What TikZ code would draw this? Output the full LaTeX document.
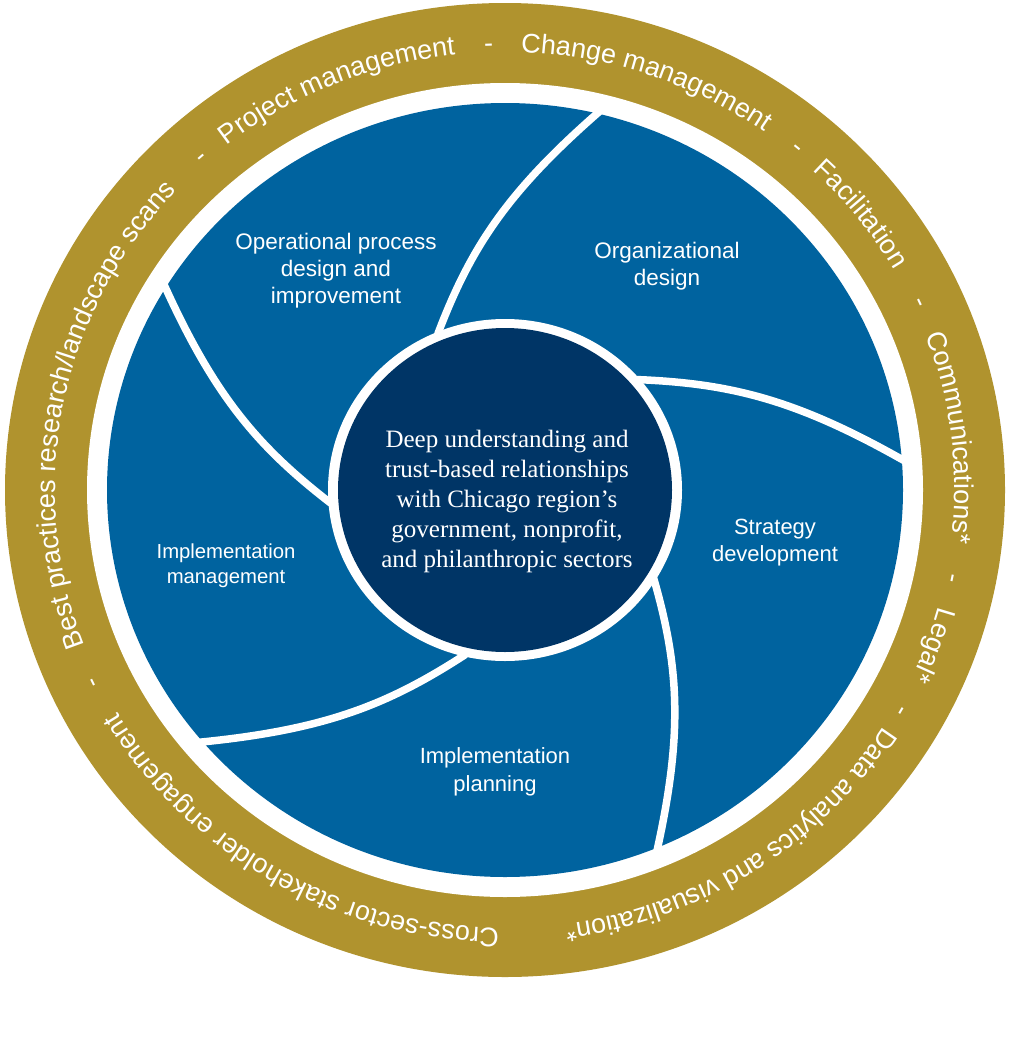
\documentclass[tikz,border=0pt]{standalone}
\usepackage{fontspec}
\setmainfont{Liberation Sans}
\newfontfamily\corefont{Liberation Serif}
\usetikzlibrary{decorations.text}
\definecolor{ringgold}{HTML}{B0932E}
\definecolor{segblue}{HTML}{00639F}
\definecolor{corenavy}{HTML}{003566}
\newcommand{\ringfont}{\fontsize{27}{32}\selectfont}
\newcommand{\ringitem}[2]{%
  \path[decorate, decoration={text along path, text align=center, text color=white, text={|\ringfont|#2}}]
    ({#1+75}:438) arc[start angle={#1+75}, end angle={#1-75}, x radius=449.8pt, y radius=438pt];%
}
\tikzset{
  divider/.style={draw=white, line width=7.5pt, line cap=butt, line join=round},
  seglabel/.style={text=white, align=center, font=\fontsize{22.5}{27}\selectfont, inner sep=0pt},
}
\begin{document}
\begin{tikzpicture}[x=1pt,y=-1pt]
\useasboundingbox[fill=white] (0,0) rectangle (1009,1052);
\begin{scope}[shift={(505,490)}, x=1.027pt, y=1pt]
  % gold ring
  \fill[ringgold] (0,0) ellipse[x radius=500pt, y radius=487pt];
  \fill[white] (0,0) ellipse[x radius=418pt, y radius=407pt];
  % blue disc
  \fill[segblue] (0,0) ellipse[x radius=398pt, y radius=387pt];
  % swirl dividers (one curve, repeated every 72 degrees)
  \foreach \k in {0,...,4}{
    \draw[divider] ({114.3-72*\k}:160) -- ({112.5-72*\k}:170)
      .. controls ({97.9-72*\k}:244) and ({89.77-72*\k}:297) .. ({76.5-72*\k}:388)
      -- ({75.6-72*\k}:398);
  }
  % core
  \fill[white] (0,0) ellipse[x radius=177pt, y radius=171pt];
  \fill[corenavy] (0,0) ellipse[x radius=167pt, y radius=162pt];
  % ring texts
  \ringitem{169}{Best practices research/landscape scans}
  \ringitem{132.3}{-}
  \ringitem{112.7}{Project management}
  \ringitem{92.1}{-}
  \ringitem{71}{Change management}
  \ringitem{49.5}{-}
  \ringitem{37.8}{Facilitation}
  \ringitem{24.3}{-}
  \ringitem{6.7}{Communications*}
  \ringitem{-11.2}{-}
  \ringitem{-20}{Legal*}
  \ringitem{-29.2}{-}
  \ringitem{-57}{Data analytics and visualization*}
  \ringitem{-120.6}{Cross-sector stakeholder engagement}
  \ringitem{-155}{-}
\end{scope}
% segment labels
\node[seglabel] (opproc) at (336,271) {Operational process\\design and\\improvement};
\node[seglabel] (orgdes) at (667,266) {Organizational\\design};
\node[seglabel, font=\fontsize{22}{27}\selectfont] (strat) at (775,543) {Strategy\\development};
\node[seglabel, font=\fontsize{22}{28}\selectfont] (implan) at (495,772) {Implementation\\planning};
\node[seglabel, font=\fontsize{20.3}{25}\selectfont] (implmgmt) at (226,566) {Implementation\\management};
% core text
\node[text=white, align=center, inner sep=0pt, font=\corefont\fontsize{25}{30}\selectfont] (core) at (507,501)
  {Deep understanding and\\trust-based relationships\\with Chicago region’s\\government, nonprofit,\\and philanthropic sectors};
\end{tikzpicture}
\end{document}
